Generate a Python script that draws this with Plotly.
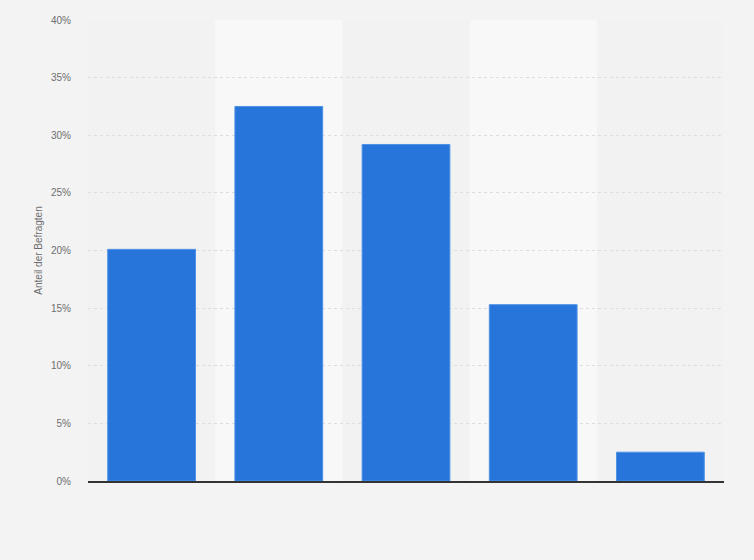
import plotly.graph_objects as go

# Daten
categories = ["1", "2", "3", "4", "5"]
shares = [20.1, 32.5, 29.2, 15.3, 2.5]
y_ticks = [0, 5, 10, 15, 20, 25, 30, 35, 40]
y_tick_labels = ["0%", "5%", "10%", "15%", "20%", "25%", "30%", "35%", "40%"]

fig = go.Figure()

fig.add_trace(
    go.Bar(
        x=list(range(len(categories))),
        y=shares,
        marker=dict(color="#2775db", line=dict(color="#4f92e6", width=1)),
        hoverinfo="y",
    )
)

# hellere Hintergrundstreifen fuer jede zweite Kategorie
for i in range(1, len(categories), 2):
    fig.add_shape(
        type="rect", xref="x", yref="y",
        x0=i - 0.5, x1=i + 0.5, y0=0, y1=40,
        fillcolor="#f8f8f8", line=dict(width=0), layer="below",
    )

fig.update_layout(
    width=754, height=560,
    margin=dict(l=88, r=30, t=20, b=79),
    paper_bgcolor="#f3f3f3",
    plot_bgcolor="#f2f2f2",
    bargap=0.31,
    showlegend=False,
    font=dict(family="Arial, Liberation Sans, sans-serif", color="#6e6e6e"),
)

fig.update_xaxes(
    range=[-0.5, len(categories) - 0.5],
    showticklabels=False,
    showgrid=False,
    zeroline=False,
    showline=True, linecolor="#333333", linewidth=1.5,
    ticks="",
)

fig.update_yaxes(
    range=[0, 40],
    tickvals=y_ticks,
    ticktext=y_tick_labels,
    tickfont=dict(size=10, color="#6e6e6e"),
    ticks="outside", ticklen=14, tickcolor="rgba(0,0,0,0)",
    showgrid=True, gridcolor="#dddddd", griddash="dot", gridwidth=1,
    zeroline=False,
    title=dict(text="Anteil der Befragten", font=dict(size=10, color="#6e6e6e"), standoff=6),
)

# Seitenrand entfernen, damit die Grafik das Fenster fuellt; ohne Modebar
fig.write_html(
    "out.html",
    config={"displayModeBar": False},
    post_script="document.body.style.margin='0';",
)
